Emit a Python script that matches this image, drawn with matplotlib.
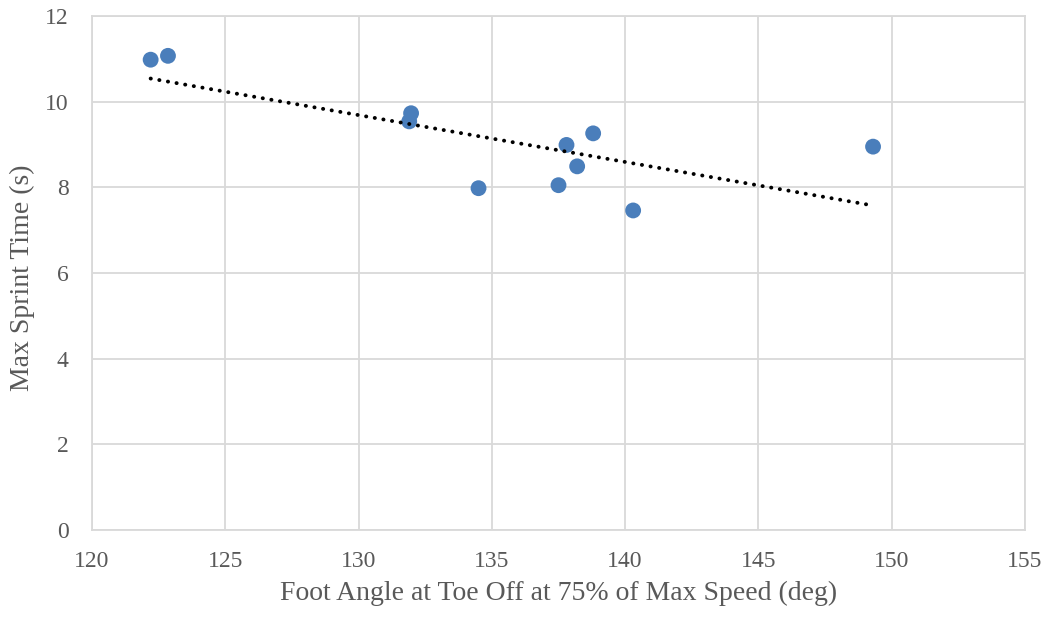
import matplotlib
matplotlib.use("Agg")
import matplotlib.pyplot as plt
import numpy as np

foot_angle = [122.2, 122.85, 131.9, 131.97, 134.5, 137.5, 137.8, 138.2, 138.8, 140.3, 149.3]
sprint_time = [10.98, 11.07, 9.54, 9.73, 7.98, 8.05, 8.99, 8.49, 9.26, 7.46, 8.95]
x_ticks = [120, 125, 130, 135, 140, 145, 150, 155]
y_ticks = [0, 2, 4, 6, 8, 10, 12]

plt.rcParams['font.family'] = ['Liberation Serif', 'DejaVu Serif']
W, H = 1050, 618
fig = plt.figure(figsize=(10.5, 6.18), dpi=100)
ax = fig.add_axes([92/W, 1 - 530/H, (1025-92)/W, (530-16)/H])

grid_c = '#d9d9d9'
text_c = '#595959'
ax.set_xlim(120, 155)
ax.set_ylim(0, 12)
ax.set_xticks(x_ticks)
ax.set_yticks(y_ticks)
ax.grid(True, color=grid_c, linewidth=1.3)
ax.set_axisbelow(True)
for s in ax.spines.values():
    s.set_color(grid_c)
    s.set_linewidth(1.3)
ax.tick_params(length=0, labelsize=17, colors=text_c)
ax.tick_params(axis='x', pad=15)
ax.tick_params(axis='y', pad=17)

ax.scatter(foot_angle, sprint_time, s=130, color='#4a7ebb', zorder=3, edgecolors='none')

xa = np.array(foot_angle)
m, b = np.polyfit(xa, np.array(sprint_time), 1)
xs = np.array([min(foot_angle), max(foot_angle)])
ax.plot(xs, m * xs + b, color='black', linestyle=(0, (0.05, 2.2)), linewidth=2.8,
        dash_capstyle='round', zorder=4)

fig.text(558.5/W, 1 - 600/H, 'Foot Angle at Toe Off at 75% of Max Speed (deg)',
         fontsize=20, color=text_c, ha='center', va='baseline')
fig.text(22/W, 1 - 278/H, 'Max Sprint Time (s)', fontsize=20, color=text_c,
         ha='center', va='center', rotation=90)

fig.savefig('out.png', dpi=100)
